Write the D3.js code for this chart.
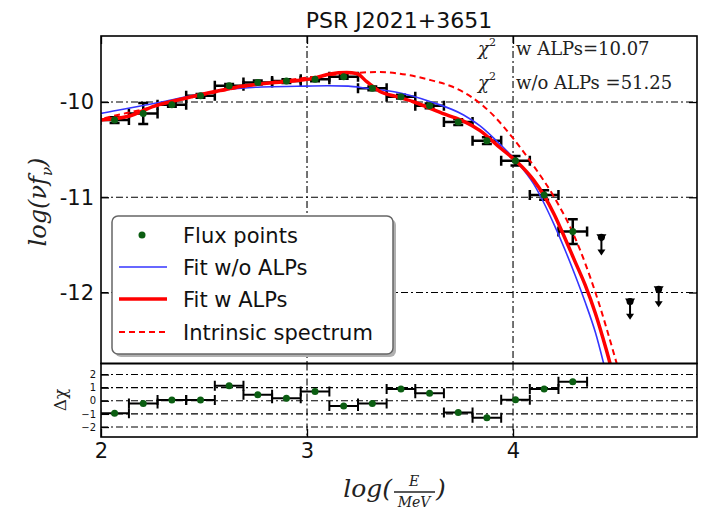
<!DOCTYPE html>
<html>
<head>
<meta charset="utf-8">
<script src="https://cdn.jsdelivr.net/npm/d3@7"></script>
<style>
body { margin: 0; background: #fff; }
</style>
</head>
<body>
<div id="chart"></div>
<script>
// flux points: log10(E/MeV) bin centres, log10(nu f_nu) values and errors
var binCenters = [2.066, 2.205, 2.344, 2.483, 2.622, 2.761, 2.900, 3.039, 3.178, 3.317, 3.456, 3.595, 3.734, 3.873, 4.012, 4.151, 4.290];
var binHalfWidth = 0.0695;
var fluxValues = [-10.19, -10.12, -10.03, -9.935, -9.83, -9.795, -9.78, -9.762, -9.735, -9.856, -9.944, -10.04, -10.21, -10.406, -10.616, -10.976, -11.36];
var fluxErrors = [0.03, 0.11, 0.02, 0.02, 0.02, 0.02, 0.02, 0.02, 0.02, 0.02, 0.02, 0.025, 0.03, 0.035, 0.05, 0.05, 0.13];

// upper limits
var ulCenters = [4.429, 4.568, 4.707];
var ulValues = [-11.42, -12.095, -11.965];

// residuals (delta chi) per bin
var residuals = [-0.95, -0.2, 0.05, 0.05, 1.15, 0.45, 0.2, 0.7, -0.4, -0.2, 0.9, 0.57, -0.9, -1.3, 0.08, 0.9, 1.45];

// model curves [log E, log nuFnu]
var fitNoAlps = [[1.97, -10.136], [2.0, -10.12], [2.133, -10.066], [2.3, -9.997], [2.456, -9.927], [2.62, -9.867],
  [2.78, -9.842], [2.95, -9.835], [3.1, -9.83], [3.2, -9.833], [3.29, -9.856], [3.435, -9.898], [3.6, -9.997],
  [3.76, -10.136], [3.84, -10.25], [3.94, -10.45], [4.02, -10.63], [4.1, -10.86], [4.15, -11.06], [4.2, -11.29],
  [4.25, -11.54], [4.3, -11.81], [4.35, -12.1], [4.4, -12.42], [4.45, -12.83], [4.47, -13.0]];
var fitAlps = [[1.97, -10.2], [2.0, -10.19], [2.133, -10.15], [2.262, -10.04], [2.408, -9.96], [2.553, -9.89],
  [2.699, -9.83], [2.845, -9.795], [2.966, -9.772], [3.03, -9.752], [3.112, -9.705], [3.193, -9.69], [3.241, -9.70],
  [3.29, -9.787], [3.354, -9.89], [3.435, -9.944], [3.516, -9.997], [3.597, -10.066], [3.678, -10.136], [3.759, -10.2],
  [3.84, -10.3], [3.937, -10.48], [4.02, -10.63], [4.1, -10.82], [4.15, -10.98], [4.2, -11.18], [4.25, -11.42],
  [4.3, -11.67], [4.35, -11.92], [4.4, -12.22], [4.45, -12.58], [4.5, -12.98]];
var intrinsic = [[1.97, -10.2], [2.0, -10.18], [2.2, -10.08], [2.4, -9.97], [2.6, -9.88], [2.8, -9.80], [3.0, -9.745],
  [3.2, -9.70], [3.35, -9.685], [3.5, -9.72], [3.6, -9.77], [3.7, -9.835], [3.8, -9.95], [3.9, -10.13], [4.0, -10.38],
  [4.1, -10.67], [4.2, -11.0], [4.3, -11.42], [4.4, -12.0], [4.5, -12.72], [4.53, -12.95]];

var xTicks = [2, 3, 4];
var yTicks = [-10, -11, -12];
var resTicks = [2, 1, 0, -1, -2];

var legendItems = ["Flux points", "Fit w/o ALPs", "Fit w ALPs", "Intrinsic spectrum"];

function drawChart() {
    var width = 701, height = 510;
    var pLeft = 101, pRight = 697, pTop = 36, pMid = 363.5, pBottom = 437;
    var dashDot = "7,3,2,3";

    var svg = d3.select("#chart").append("svg")
        .attr("width", width)
        .attr("height", height)
        .style("font-family", "'DejaVu Sans', sans-serif");

    var x = d3.scaleLinear().domain([2, 4.893]).range([pLeft, pRight]);
    var y = d3.scaleLinear().domain([-12.745, -9.307]).range([pMid, pTop]);
    var yr = d3.scaleLinear().domain([-2.76, 2.84]).range([pBottom, pMid]);

    svg.append("clipPath").attr("id", "clipMain")
        .append("rect").attr("x", pLeft).attr("y", pTop).attr("width", pRight - pLeft).attr("height", pMid - pTop);
    svg.append("clipPath").attr("id", "clipRes")
        .append("rect").attr("x", pLeft).attr("y", pMid).attr("width", pRight - pLeft).attr("height", pBottom - pMid);

    // grid lines
    var grid = svg.append("g").attr("stroke", "#000").attr("stroke-width", 1.1).attr("stroke-dasharray", dashDot);
    xTicks.filter(function (d) { return d > 2; }).forEach(function (d) {
        grid.append("line").attr("x1", x(d)).attr("x2", x(d)).attr("y1", pTop).attr("y2", pMid);
        grid.append("line").attr("x1", x(d)).attr("x2", x(d)).attr("y1", pMid).attr("y2", pBottom);
    });
    yTicks.forEach(function (d) {
        grid.append("line").attr("x1", pLeft).attr("x2", pRight).attr("y1", y(d)).attr("y2", y(d));
    });
    resTicks.forEach(function (d) {
        grid.append("line").attr("x1", pLeft).attr("x2", pRight).attr("y1", yr(d)).attr("y2", yr(d));
    });

    // main panel
    var main = svg.append("g").attr("clip-path", "url(#clipMain)");

    function errorBars(g, xs, ys, yerrs, yScale) {
        xs.forEach(function (c, i) {
            var v = ys[i];
            var x0 = x(c - binHalfWidth), x1 = x(c + binHalfWidth), yy = yScale(v);
            g.append("line").attr("x1", x0).attr("x2", x1).attr("y1", yy).attr("y2", yy);
            g.append("line").attr("x1", x0).attr("x2", x0).attr("y1", yy - 5).attr("y2", yy + 5);
            g.append("line").attr("x1", x1).attr("x2", x1).attr("y1", yy - 5).attr("y2", yy + 5);
            if (yerrs) {
                var ya = yScale(v + yerrs[i]), yb = yScale(v - yerrs[i]);
                g.append("line").attr("x1", x(c)).attr("x2", x(c)).attr("y1", ya).attr("y2", yb);
                g.append("line").attr("x1", x(c) - 5).attr("x2", x(c) + 5).attr("y1", ya).attr("y2", ya);
                g.append("line").attr("x1", x(c) - 5).attr("x2", x(c) + 5).attr("y1", yb).attr("y2", yb);
            }
        });
    }

    var eb = main.append("g").attr("stroke", "#000").attr("stroke-width", 2.5);
    errorBars(eb, binCenters, fluxValues, fluxErrors, y);

    // upper limits
    var ul = main.append("g");
    ulCenters.forEach(function (c, i) {
        var cx = x(c), y0 = y(ulValues[i]), y1 = y(ulValues[i] - 0.19);
        ul.append("line").attr("x1", cx).attr("x2", cx).attr("y1", y0).attr("y2", y1 - 3)
            .attr("stroke", "#000").attr("stroke-width", 2);
        ul.append("path").attr("d", "M" + (cx - 4) + "," + (y1 - 6) + "L" + (cx + 4) + "," + (y1 - 6) + "L" + cx + "," + y1 + "Z")
            .attr("fill", "#000");
        ul.append("path").attr("d", "M" + (cx - 5) + "," + (y0 - 3) + "L" + (cx + 5) + "," + (y0 - 3) + "L" + cx + "," + (y0 + 5) + "Z")
            .attr("fill", "#000");
        ul.append("circle").attr("cx", cx).attr("cy", y0).attr("r", 3.5).attr("fill", "#000");
    });

    var line = d3.line()
        .x(function (d) { return x(d[0]); })
        .y(function (d) { return y(d[1]); })
        .curve(d3.curveMonotoneX);

    main.append("path").datum(fitNoAlps).attr("d", line)
        .attr("fill", "none").attr("stroke", "#3535ff").attr("stroke-width", 1.6);
    main.append("path").datum(fitAlps).attr("d", line)
        .attr("fill", "none").attr("stroke", "#ff0000").attr("stroke-width", 3.5);
    main.append("path").datum(intrinsic).attr("d", line)
        .attr("fill", "none").attr("stroke", "#ff0000").attr("stroke-width", 2).attr("stroke-dasharray", "6,4");

    main.selectAll("circle.flux").data(binCenters).enter().append("circle")
        .attr("class", "flux")
        .attr("cx", function (d) { return x(d); })
        .attr("cy", function (d, i) { return y(fluxValues[i]); })
        .attr("r", 3.5)
        .attr("fill", "#0b5e12");

    // residual panel
    var res = svg.append("g").attr("clip-path", "url(#clipRes)");
    var reb = res.append("g").attr("stroke", "#000").attr("stroke-width", 2);
    errorBars(reb, binCenters, residuals, null, yr);
    res.selectAll("circle").data(binCenters).enter().append("circle")
        .attr("cx", function (d) { return x(d); })
        .attr("cy", function (d, i) { return yr(residuals[i]); })
        .attr("r", 3.5)
        .attr("fill", "#0b5e12");

    // frames
    svg.append("rect").attr("x", pLeft).attr("y", pTop).attr("width", pRight - pLeft).attr("height", pMid - pTop)
        .attr("fill", "none").attr("stroke", "#000").attr("stroke-width", 1.6);
    svg.append("rect").attr("x", pLeft).attr("y", pMid).attr("width", pRight - pLeft).attr("height", pBottom - pMid)
        .attr("fill", "none").attr("stroke", "#000").attr("stroke-width", 1.6);

    // axes
    function styleAxis(g, size) {
        g.select(".domain").remove();
        g.selectAll(".tick line").attr("stroke", "#000").attr("stroke-width", 1.3);
        g.selectAll(".tick text").attr("fill", "#111").style("font-size", size + "px")
            .style("font-family", "'DejaVu Sans', sans-serif");
    }
    var ay = svg.append("g").attr("transform", "translate(" + pLeft + ",0)")
        .call(d3.axisLeft(y).tickValues(yTicks).tickSize(-8).tickPadding(7).tickFormat(function (d) { return String(d); }));
    styleAxis(ay, 21);
    var ayr = svg.append("g").attr("transform", "translate(" + pRight + ",0)")
        .call(d3.axisRight(y).tickValues(yTicks).tickSize(-8).tickFormat(""));
    styleAxis(ayr, 10);
    var ar = svg.append("g").attr("transform", "translate(" + pLeft + ",0)")
        .call(d3.axisLeft(yr).tickValues(resTicks).tickSize(-8).tickPadding(5)
            .tickFormat(function (d) { return d < 0 ? "\u2212" + Math.abs(d) : String(d); }));
    styleAxis(ar, 10);
    var ax = svg.append("g").attr("transform", "translate(0," + pBottom + ")")
        .call(d3.axisBottom(x).tickValues(xTicks).tickSize(-8).tickPadding(6).tickFormat(function (d) { return String(d); }));
    styleAxis(ax, 21);
    var axt = svg.append("g").attr("transform", "translate(0," + pTop + ")")
        .call(d3.axisTop(x).tickValues(xTicks).tickSize(-8).tickFormat(""));
    styleAxis(axt, 10);

    // legend
    var lg = svg.append("g");
    lg.append("rect").attr("x", 115).attr("y", 219).attr("width", 281).attr("height", 138).attr("rx", 6)
        .attr("fill", "#b0b0b0");
    lg.append("rect").attr("x", 112).attr("y", 216).attr("width", 281).attr("height", 138).attr("rx", 6)
        .attr("fill", "#fff").attr("stroke", "#666").attr("stroke-width", 1.5);
    var rowY = [235, 267, 299, 332];
    lg.append("circle").attr("cx", 142).attr("cy", rowY[0]).attr("r", 3.5).attr("fill", "#0b5e12");
    lg.append("line").attr("x1", 119).attr("x2", 167).attr("y1", rowY[1]).attr("y2", rowY[1])
        .attr("stroke", "#3535ff").attr("stroke-width", 1.6);
    lg.append("line").attr("x1", 119).attr("x2", 167).attr("y1", rowY[2]).attr("y2", rowY[2])
        .attr("stroke", "#ff0000").attr("stroke-width", 3.5);
    lg.append("line").attr("x1", 119).attr("x2", 167).attr("y1", rowY[3]).attr("y2", rowY[3])
        .attr("stroke", "#ff0000").attr("stroke-width", 2).attr("stroke-dasharray", "6,4");
    legendItems.forEach(function (t, i) {
        lg.append("text").attr("x", 183).attr("y", rowY[i]).attr("dy", "0.36em")
            .style("font-size", "21px").attr("fill", "#111").text(t);
    });

    // title
    svg.append("text").attr("x", (pLeft + pRight) / 2).attr("y", 28).attr("text-anchor", "middle")
        .style("font-size", "22px").attr("fill", "#111").text("PSR J2021+3651");

    // chi2 annotations
    var chiRows = [["w ALPs", "=10.07", 55], ["w/o ALPs", " =51.25", 89]];
    chiRows.forEach(function (r) {
        var t = svg.append("text").attr("x", 478).attr("y", r[2])
            .style("font-family", "'DejaVu Serif', serif").style("font-size", "18px").attr("fill", "#222");
        t.append("tspan").style("font-style", "italic").text("\u03c7");
        t.append("tspan").attr("dy", -9).style("font-size", "11px").text("2");
        svg.append("text").attr("x", 516).attr("y", r[2])
            .style("font-family", "'DejaVu Serif', serif").style("font-size", "18px").attr("fill", "#222")
            .text(r[0] + r[1]);
    });

    // y label
    var yl = svg.append("text").attr("transform", "translate(46,202) rotate(-90)").attr("text-anchor", "middle")
        .style("font-family", "'DejaVu Serif', serif").style("font-style", "italic").style("font-size", "24px").attr("fill", "#222");
    yl.append("tspan").text("log(\u03bdf");
    yl.append("tspan").attr("dy", 6).style("font-size", "15px").text("\u03bd");
    yl.append("tspan").attr("dy", -6).text(")");

    // delta chi label
    svg.append("text").attr("transform", "translate(66,400) rotate(-90)").attr("text-anchor", "middle")
        .style("font-family", "'DejaVu Serif', serif").style("font-size", "17px").attr("fill", "#222")
        .text("\u0394\u03c7");

    // x label: log(E / MeV)
    var xl = svg.append("g").style("font-family", "'DejaVu Serif', serif").style("font-style", "italic").attr("fill", "#222");
    xl.append("text").attr("x", 392).attr("y", 497).attr("text-anchor", "end").style("font-size", "25px").text("log(");
    xl.append("text").attr("x", 414).attr("y", 486).attr("text-anchor", "middle").style("font-size", "14px").text("E");
    xl.append("line").attr("x1", 394).attr("x2", 435).attr("y1", 492).attr("y2", 492).attr("stroke", "#222").attr("stroke-width", 1.3);
    xl.append("text").attr("x", 414).attr("y", 507).attr("text-anchor", "middle").style("font-size", "14px").text("MeV");
    xl.append("text").attr("x", 436).attr("y", 497).style("font-size", "25px").text(")");
}

drawChart();
</script>
</body>
</html>
